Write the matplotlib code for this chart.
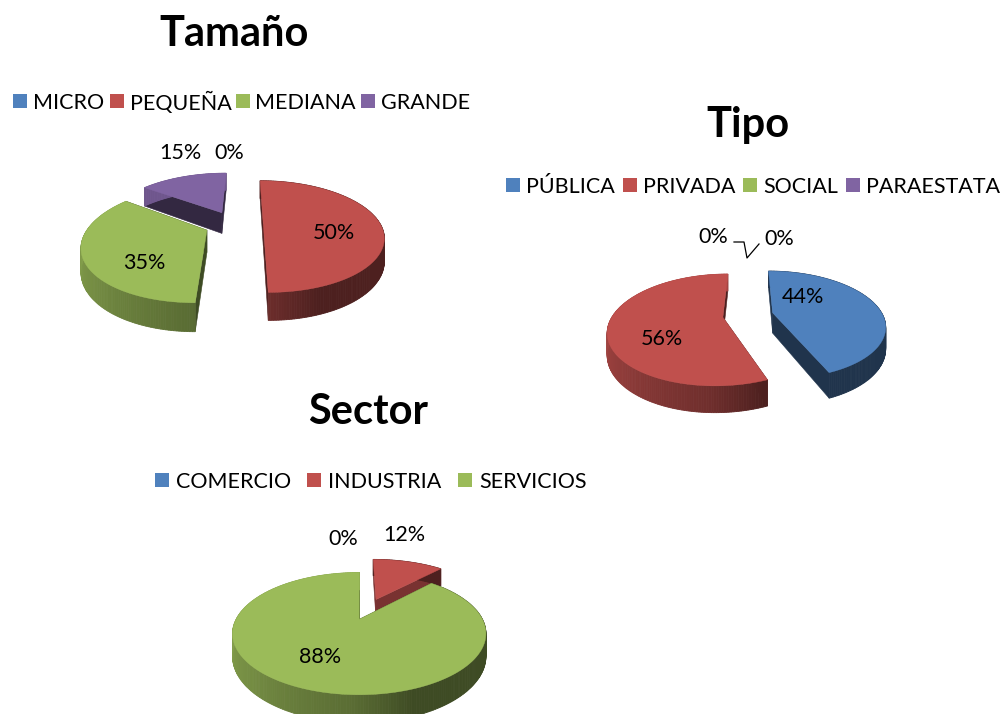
import numpy as np
import matplotlib
matplotlib.use("Agg")
import matplotlib.pyplot as plt
from matplotlib.colors import to_rgb

plt.rcParams['font.family'] = ['Lato', 'DejaVu Sans']

# Datos de las tres graficas
titulo_tamano = 'Tamaño'
cats_tamano = ['MICRO', 'PEQUEÑA', 'MEDIANA', 'GRANDE']
vals_tamano = [0, 50, 35, 15]

titulo_tipo = 'Tipo'
cats_tipo = ['PÚBLICA', 'PRIVADA', 'SOCIAL', 'PARAESTATAL']
vals_tipo = [44, 56, 0, 0]

titulo_sector = 'Sector'
cats_sector = ['COMERCIO', 'INDUSTRIA', 'SERVICIOS']
vals_sector = [0, 12, 88]

colores = ['#4F81BD', '#C0504D', '#9BBB59', '#8064A2']


# Pasa un punto del disco (en radios) a pixeles, con perspectiva
def proyectar(g, u, v, abajo=0.0):
    w = 1 + g['p'] * v
    x = g['vx'] + (g['cx'] + g['R'] * u - g['vx']) / w
    y = g['cy'] + (abajo - g['Rk'] * v) / w
    return x, y


# Tono del borde segun el angulo: claro a la izquierda, oscuro a la derecha
def tono_borde(ang):
    return np.interp(ang, [0, 160, 182, 225, 275, 360], [0.40, 0.40, 0.58, 0.74, 0.88, 0.88])


def oscurecer(color, f):
    return tuple(c * f for c in to_rgb(color))


def dibujar_rebanada(ax, g, ini, fin, color, tono_cara):
    med = np.radians((ini + fin) / 2)
    du, dv = g['e'] * np.sin(med), g['e'] * np.cos(med)
    angs = np.linspace(ini, fin, max(int(fin - ini), 2) + 1)
    us = du + np.sin(np.radians(angs))
    vs = dv + np.cos(np.radians(angs))
    D = g['D']

    # caras rectas de la rebanada
    cara = oscurecer(color, tono_cara)
    for u, v in [(us[0], vs[0]), (us[-1], vs[-1])]:
        xs, ys = zip(proyectar(g, du, dv), proyectar(g, u, v),
                     proyectar(g, u, v, D), proyectar(g, du, dv, D))
        ax.fill(xs, ys, color=cara, lw=0.4)

    # borde exterior con degradado
    for i in range(len(angs) - 1):
        xs, ys = zip(proyectar(g, us[i], vs[i]), proyectar(g, us[i + 1], vs[i + 1]),
                     proyectar(g, us[i + 1], vs[i + 1], D), proyectar(g, us[i], vs[i], D))
        ax.fill(xs, ys, color=oscurecer(color, tono_borde((angs[i] + angs[i + 1]) / 2)), lw=0.6)

    # cara superior
    x0, y0 = proyectar(g, du, dv)
    xr, yr = proyectar(g, us, vs)
    ax.fill(np.r_[x0, xr], np.r_[y0, yr], color=color, lw=0.3)


def dibujar_pastel(ax, g, valores, tonos_cara=None):
    total = sum(valores)
    rebanadas = []
    acum = 0
    for i, val in enumerate(valores):
        ang = 360 * val / total
        if val > 0:
            rebanadas.append((acum, acum + ang, colores[i], i))
        acum += ang
    # primero las de atras
    rebanadas.sort(key=lambda r: -np.cos(np.radians((r[0] + r[1]) / 2)))
    for ini, fin, color, i in rebanadas:
        tono = 0.40 if tonos_cara is None else tonos_cara[i]
        dibujar_rebanada(ax, g, ini, fin, color, tono)


def dibujar_leyenda(ax, cats, cuadros, textos, y):
    for i, cat in enumerate(cats):
        ax.fill([cuadros[i], cuadros[i] + 14, cuadros[i] + 14, cuadros[i]],
                [y - 7, y - 7, y + 7, y + 7], color=colores[i], lw=0)
        ax.text(textos[i], y, cat, fontsize=TAM_TEXTO, va='center_baseline', ha='left', color='black')


def dibujar_etiquetas(ax, valores, posiciones):
    for val, (x, y) in zip(valores, posiciones):
        ax.text(x, y, f'{val}%', fontsize=TAM_TEXTO, ha='center', va='center_baseline', color='black')


TAM_TEXTO = 15.5
TAM_TITULO = 30

fig = plt.figure(figsize=(10.03, 7.14), dpi=100)
ax = fig.add_axes([0, 0, 1, 1])
ax.set_xlim(0, 1003)
ax.set_ylim(714, 0)
ax.axis('off')

geo_tamano = dict(cx=234, cy=224, R=117, Rk=53, p=0.225, e=0.25, D=21.7, vx=246)
geo_tipo = dict(cx=748, cy=315, R=110, Rk=52, p=0.225, e=0.23, D=20.5, vx=750)
geo_sector = dict(cx=368, cy=609, R=118, Rk=53, p=0.225, e=0.20, D=20.5, vx=360)

dibujar_pastel(ax, geo_tamano, vals_tamano)
dibujar_pastel(ax, geo_tipo, vals_tipo)
dibujar_pastel(ax, geo_sector, vals_sector, tonos_cara=[0.40, 0.63, 0.40])

ax.text(234, 31, titulo_tamano, fontsize=TAM_TITULO, fontweight='bold', ha='center', va='center_baseline')
ax.text(748, 122, titulo_tipo, fontsize=TAM_TITULO, fontweight='bold', ha='center', va='center_baseline')
ax.text(368, 409, titulo_sector, fontsize=TAM_TITULO, fontweight='bold', ha='center', va='center_baseline')

dibujar_leyenda(ax, cats_tamano, [13, 110, 236, 361], [33, 130, 255, 381], 101)
dibujar_leyenda(ax, cats_tipo, [506, 623, 743, 846], [526, 643, 763, 866], 185)
dibujar_leyenda(ax, cats_sector, [155, 307, 458], [176, 328, 479], 480)

dibujar_etiquetas(ax, vals_tamano, [(229, 151), (334, 231), (144, 261), (180, 151)])
dibujar_etiquetas(ax, vals_tipo, [(803, 295), (662, 337), (713, 235), (779, 237)])
dibujar_etiquetas(ax, vals_sector, [(343, 537), (404, 533), (320, 655)])

# lineas guia de los 0% en Tipo
ax.plot([734, 744, 747, 759], [242, 242, 258, 244], color='black', lw=0.9)

fig.savefig('out.png', dpi=100)
